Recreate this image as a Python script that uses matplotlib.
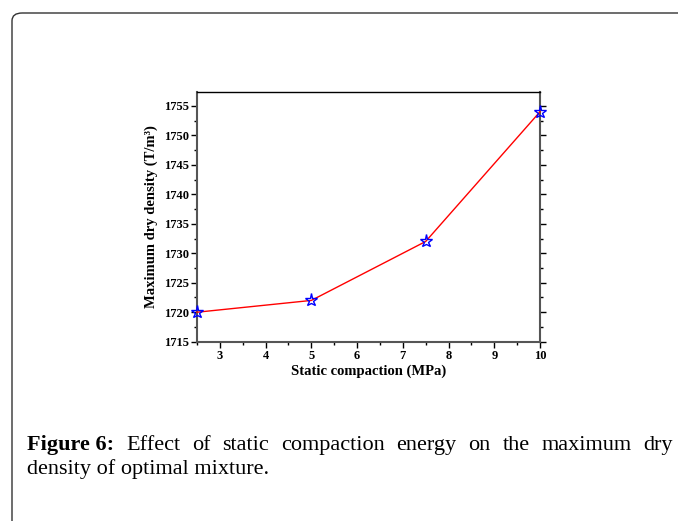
import matplotlib.pyplot as plt
from matplotlib.patches import FancyBboxPatch
from matplotlib.ticker import MultipleLocator

# data
compaction = [2.5, 5.0, 7.5, 10.0]
max_dry_density = [1720, 1722, 1732, 1754]

x_ticks = [3, 4, 5, 6, 7, 8, 9, 10]
y_ticks = [1715, 1720, 1725, 1730, 1735, 1740, 1745, 1750, 1755]

caption_head = "Figure 6:"
caption_line1 = "Effect of static compaction energy on the maximum dry"
caption_line2 = "density of optimal mixture."

W, H = 678, 521
fig = plt.figure(figsize=(W / 100, H / 100), dpi=100)

# page frame with rounded corner, running off the right and bottom edges
frame = FancyBboxPatch((12 / W, -0.2), 1.2, 1 - 13 / H + 0.2,
                       boxstyle="round,pad=0,rounding_size=0.015",
                       transform=fig.transFigure, fill=False,
                       edgecolor="#333333", linewidth=1.0)
fig.patches.append(frame)

ax = fig.add_axes([197 / W, 1 - 341.7 / H, (540 - 197) / W, (341.7 - 91.7) / H])

ax.plot(compaction, max_dry_density, color="red", linewidth=1.0,
        marker="*", markersize=9.5, markerfacecolor="none",
        markeredgecolor="blue", markeredgewidth=1.0, clip_on=False, zorder=3)

ax.set_xlim(2.5, 10)
ax.set_ylim(1715, 1757.4)
ax.set_xticks(x_ticks)
ax.set_yticks(y_ticks)
ax.xaxis.set_minor_locator(MultipleLocator(0.5))
ax.yaxis.set_minor_locator(MultipleLocator(2.5))

serif = ["Liberation Serif", "DejaVu Serif"]
for lab in ax.get_xticklabels() + ax.get_yticklabels():
    lab.set_fontfamily(serif)
    lab.set_fontweight("bold")
    lab.set_fontsize(9)

ax.tick_params(which="major", direction="out", length=4, width=1, pad=2)
ax.tick_params(which="minor", direction="out", length=2, width=1)
ax.tick_params(axis="y", which="both", right=True)

for side in ["left", "bottom", "right"]:
    ax.spines[side].set_color("#555555")
    ax.spines[side].set_linewidth(1.5)
ax.spines["top"].set_color("black")
ax.spines["top"].set_linewidth(1.0)

ax.set_xlabel("Static compaction (MPa)", fontfamily=serif, fontweight="bold",
              fontsize=10.5, labelpad=2)
ax.set_ylabel("Maximum dry density (T/m³)", fontfamily=serif,
              fontweight="bold", fontsize=10.5, labelpad=4)

# caption, first line justified between x=27 and x=673
renderer = fig.canvas.get_renderer()
x0, x1 = 27, 673
y1 = 1 - 450 / H
words = [(caption_head, "bold")] + [(w, "normal") for w in caption_line1.split()]
texts = []
total = 0
for word, weight in words:
    t = fig.text(0, y1, word, fontfamily=serif, fontweight=weight,
                 fontsize=16, va="baseline")
    total += t.get_window_extent(renderer).width
    texts.append(t)
gap = (x1 - x0 - total) / (len(texts) - 1)
x = x0
for t in texts:
    t.set_x(x / W)
    x += t.get_window_extent(renderer).width + gap

fig.text(x0 / W, 1 - 474 / H, caption_line2, fontfamily=serif, fontsize=16,
         va="baseline")

fig.savefig("out.png", dpi=100)
